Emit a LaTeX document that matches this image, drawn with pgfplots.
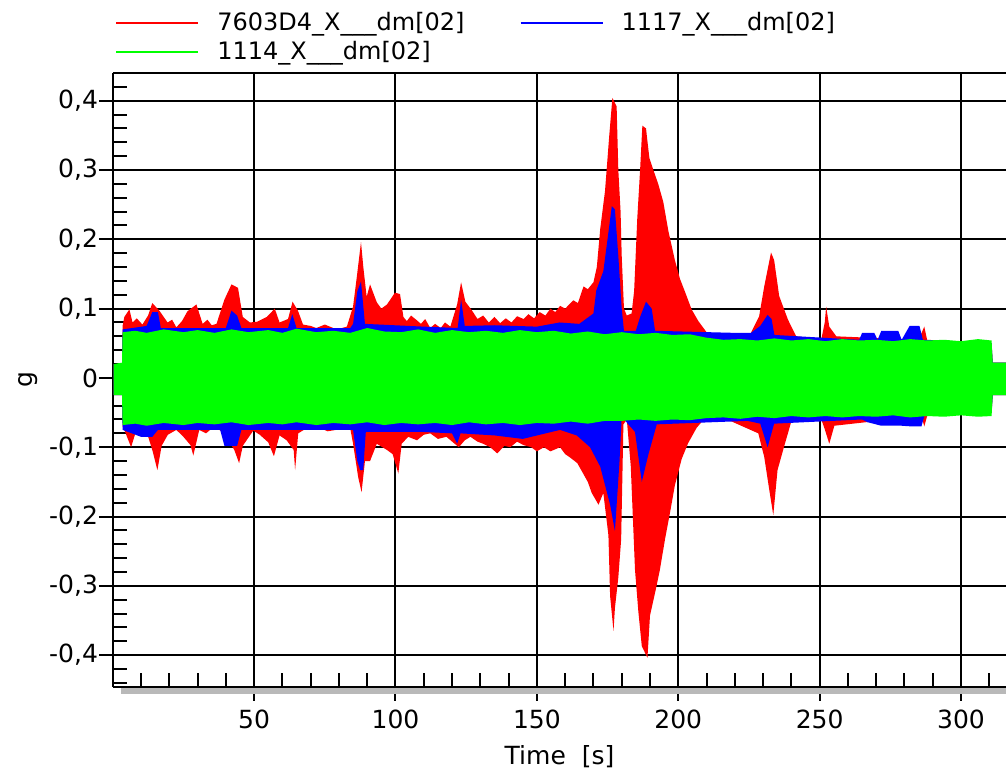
\documentclass[border=0pt]{standalone}
\usepackage{fontspec}
\setmainfont{DejaVu Sans}
\usepackage{pgfplots}
\pgfplotsset{compat=1.18}
\usepgfplotslibrary{fillbetween}
\definecolor{cred}{RGB}{255,0,0}
\definecolor{cblue}{RGB}{0,0,255}
\definecolor{cgreen}{RGB}{0,255,0}
\begin{document}
\begin{tikzpicture}
\fill[gray!55] (4pt,-0.5pt) rectangle (446.5pt,-3.5pt);
\begin{axis}[
  name=ax,
  scale only axis,
  width=446.5pt, height=307pt,
  xmin=0.1, xmax=315.9,
  ymin=-0.446, ymax=0.44,
  axis x line*=bottom, axis y line*=left,
  x axis line style={-, line width=1pt},
  y axis line style={-, line width=1pt},
  xtick={50,100,...,300},
  minor xtick={10,20,...,310},
  ytick={-0.4,-0.3,...,0.41},
  minor ytick={-0.44,-0.42,...,0.441},
  grid=major,
  major grid style={black, line width=1pt},
  tick align=outside,
  major tick length=7pt,
  minor tick length=7pt,
  tick style={black, line width=1pt},
  minor x tick style={yshift=7pt},
  minor y tick style={xshift=7pt},
  /pgf/number format/assume math mode=true,
  /pgf/number format/use comma,
  /pgf/number format/fixed,
  /pgf/number format/precision=1,
  ticklabel style={font=\fontsize{12.5}{14}\selectfont},
  yticklabel style={xshift=3pt},
  xticklabel style={yshift=-1pt},
  xlabel={Time\ \ [s]},
  ylabel={g},
  label style={font=\fontsize{12.5}{14}\selectfont},
  xlabel style={at={(axis description cs:0.5,0)}, anchor=center, yshift=-35pt},
  ylabel style={at={(axis description cs:-0.0952,0.5)}, anchor=center},
  legend columns=2,
  legend style={draw=none, fill=none, at={(axis description cs:0,1)}, anchor=south west,
    xshift=1pt, yshift=4pt, font=\fontsize{12}{14}\selectfont, inner sep=0pt,
    row sep=2pt, nodes={inner sep=1pt},
    /tikz/every even column/.append style={column sep=26.5pt},
    /tikz/every odd column/.append style={column sep=8pt}},
  legend image code/.code={\draw[#1] (0pt,0pt) -- (41pt,0pt);},
  legend cell align=left,
]
% ---- red series 7603D4 ----
\addplot[draw=none, forget plot, name path=ru] coordinates {
(0.3,0.02)(3.3,0.02)(3.5,0.075)(4.1,0.088)(5.9,0.099)(7,0.08)(8.5,0.086)(10.5,0.077)(12.5,0.09)(14,0.108)(16.5,0.097)(19.4,0.08)(21,0.084)(22.5,0.073)(24.5,0.082)(26.4,0.096)(29.6,0.106)(31.8,0.078)(33.5,0.084)(35,0.076)(36.7,0.078)(39.5,0.113)(42,0.135)(44.3,0.13)(46,0.088)(48.5,0.08)(51,0.081)(54.5,0.088)(57.3,0.1)(59,0.08)(62,0.085)(63.6,0.11)(65.5,0.097)(67.3,0.077)(70,0.075)(72,0.072)(75,0.077)(79.2,0.07)(82.8,0.074)(85,0.103)(86.3,0.145)(87.8,0.196)(88.6,0.161)(89.8,0.117)(91,0.135)(93.4,0.109)(95,0.1)(97,0.106)(99.8,0.123)(101.6,0.121)(102.8,0.088)(104,0.082)(105.5,0.09)(107.6,0.083)(109,0.078)(110.5,0.085)(112.3,0.072)(114,0.078)(116,0.072)(117.5,0.08)(119.4,0.074)(121.8,0.106)(123.2,0.138)(124.7,0.11)(127.1,0.097)(129,0.085)(131,0.09)(133,0.08)(135,0.088)(137,0.079)(139,0.086)(141,0.08)(143,0.089)(145.3,0.085)(147,0.092)(149,0.086)(151,0.095)(153,0.09)(154.8,0.1)(156.5,0.095)(158.2,0.104)(160,0.1)(162.9,0.112)(164.5,0.108)(166.5,0.132)(168,0.128)(170,0.138)(171.2,0.16)(172.4,0.215)(174.1,0.27)(175.6,0.35)(176.7,0.404)(178.2,0.392)(178.8,0.30)(179.6,0.24)(180,0.176)(180.8,0.10)(181.8,0.09)(183.5,0.093)(184.4,0.126)(185.5,0.23)(186.5,0.30)(187.3,0.364)(188.6,0.36)(189,0.345)(189.8,0.317)(191.2,0.30)(192.9,0.28)(194.7,0.254)(196.5,0.212)(198.8,0.17)(200.6,0.143)(202.4,0.124)(204.7,0.099)(207.1,0.082)(210,0.066)(212.4,0.06)(215,0.052)(225.7,0.065)(228.6,0.089)(230.4,0.132)(232.8,0.181)(233.9,0.17)(235.7,0.118)(238.8,0.084)(241.7,0.06)(250.6,0.056)(251.8,0.08)(252.3,0.103)(253.4,0.074)(255.9,0.06)(285,0.055)(287,0.074)(288,0.055)(310.8,0.05)(311.2,0.022)(316,0.022)
};
\addplot[draw=none, forget plot, name path=rl] coordinates {
(0.3,-0.025)(3.3,-0.025)(3.5,-0.07)(4.1,-0.075)(6.5,-0.1)(8,-0.08)(10.5,-0.085)(12,-0.078)(14,-0.104)(15.8,-0.133)(17.3,-0.098)(19.5,-0.082)(22.5,-0.075)(25,-0.085)(27.5,-0.097)(28.5,-0.112)(30.6,-0.075)(33,-0.08)(35.9,-0.07)(39.5,-0.08)(43,-0.104)(44.7,-0.123)(46,-0.098)(49.7,-0.076)(52,-0.082)(55,-0.093)(57,-0.113)(59,-0.083)(61.5,-0.09)(64,-0.104)(64.5,-0.133)(65.6,-0.08)(68,-0.074)(72,-0.07)(76,-0.077)(79,-0.075)(84,-0.073)(85,-0.095)(86.8,-0.143)(88,-0.165)(89.2,-0.12)(91,-0.12)(93.4,-0.095)(97,-0.104)(99,-0.11)(101,-0.138)(102.2,-0.095)(104.5,-0.085)(107.6,-0.09)(110,-0.082)(112.3,-0.08)(115,-0.088)(118,-0.085)(122.4,-0.1)(124.5,-0.09)(126.5,-0.085)(129,-0.092)(131,-0.095)(133.5,-0.1)(136,-0.109)(138.5,-0.098)(140.6,-0.1)(143,-0.092)(145.3,-0.097)(148,-0.1)(150,-0.106)(152.5,-0.1)(154.8,-0.106)(158.2,-0.1)(160,-0.11)(161.8,-0.115)(164.3,-0.123)(166.5,-0.139)(168,-0.15)(169.4,-0.166)(171.8,-0.183)(173.5,-0.166)(175.3,-0.227)(175.9,-0.315)(177.1,-0.365)(177.6,-0.332)(178.8,-0.288)(179.8,-0.233)(180.6,-0.067)(181.8,-0.06)(183.2,-0.127)(184.7,-0.277)(185.9,-0.338)(187.1,-0.387)(189.1,-0.404)(190,-0.343)(191.8,-0.31)(193.5,-0.277)(195.3,-0.233)(197.1,-0.194)(198.8,-0.155)(201.2,-0.117)(203.5,-0.094)(206.5,-0.072)(208.8,-0.061)(215.1,-0.056)(228.3,-0.08)(230.4,-0.114)(232.2,-0.162)(233.6,-0.198)(235.1,-0.133)(237.5,-0.098)(239.9,-0.064)(250.6,-0.06)(251.8,-0.074)(253.4,-0.095)(255.2,-0.069)(286,-0.055)(287,-0.07)(288,-0.055)(310.8,-0.05)(311.2,-0.025)(316,-0.025)
};
\addplot[fill=cred, draw=none, forget plot] fill between[of=ru and rl];
% ---- blue series 1117 ----
\addplot[draw=none, forget plot, name path=bu] coordinates {
(0.3,0.02)(3.3,0.02)(3.5,0.07)(12,0.075)(14,0.095)(16,0.095)(17,0.072)(40,0.072)(42,0.097)(44,0.09)(45.5,0.072)(62,0.072)(63.5,0.092)(65,0.072)(84,0.072)(85,0.078)(86.5,0.125)(87.8,0.139)(89.2,0.078)(110,0.074)(122,0.072)(123.2,0.113)(124.5,0.075)(135,0.076)(150,0.074)(158,0.08)(165,0.078)(170,0.093)(171,0.126)(173.5,0.154)(175.3,0.21)(176.5,0.248)(177.6,0.243)(178.8,0.176)(180,0.1)(180.8,0.068)(185,0.068)(186.5,0.088)(188.6,0.11)(190.6,0.1)(191.8,0.068)(220,0.065)(225.7,0.065)(229,0.075)(231.6,0.091)(233,0.085)(234,0.062)(264,0.055)(265,0.065)(269.3,0.065)(270.5,0.055)(271.8,0.068)(277.8,0.068)(279,0.055)(281.8,0.075)(285.3,0.075)(286.5,0.055)(310.8,0.05)(311.2,0.022)(316,0.022)
};
\addplot[draw=none, forget plot, name path=bl] coordinates {
(0.3,-0.025)(3.3,-0.025)(3.5,-0.075)(10,-0.085)(14,-0.085)(16,-0.075)(38,-0.075)(39.5,-0.098)(44,-0.098)(45.5,-0.075)(85,-0.075)(86.5,-0.12)(87.5,-0.133)(88.6,-0.133)(89.5,-0.078)(110,-0.078)(120,-0.08)(121.8,-0.095)(123,-0.08)(135,-0.083)(145,-0.088)(158.2,-0.075)(164.1,-0.083)(168.8,-0.1)(172.4,-0.128)(175.9,-0.183)(177.6,-0.221)(179.2,-0.122)(180,-0.056)(184.7,-0.078)(187.1,-0.15)(189.4,-0.111)(192.4,-0.067)(224.5,-0.062)(229,-0.066)(231.6,-0.1)(233.9,-0.066)(265,-0.06)(267,-0.064)(271.8,-0.069)(279,-0.069)(282.5,-0.07)(286,-0.07)(287,-0.055)(310.8,-0.05)(311.2,-0.025)(316,-0.025)
};
\addplot[fill=cblue, draw=none, forget plot] fill between[of=bu and bl];
% ---- green series 1114 ----
\addplot[draw=none, forget plot, name path=gu] coordinates {
(0.3,0.02)(3.3,0.022)(3.5,0.066)(8,0.068)(12,0.065)(18,0.07)(25,0.066)(30,0.069)(36,0.065)(42,0.07)(48,0.066)(55,0.069)(60,0.065)(65,0.071)(72,0.066)(78,0.068)(84,0.065)(90,0.072)(96,0.067)(102,0.066)(108,0.07)(114,0.065)(120,0.069)(126,0.066)(132,0.068)(138,0.065)(144,0.069)(150,0.066)(156,0.068)(162,0.064)(168,0.067)(174,0.063)(180,0.066)(186,0.063)(192,0.065)(198,0.062)(204,0.063)(210,0.058)(216,0.055)(222,0.056)(228,0.054)(234,0.057)(240,0.054)(246,0.056)(252,0.053)(258,0.056)(264,0.054)(270,0.055)(276,0.053)(282,0.056)(288,0.054)(294,0.055)(300,0.053)(306,0.056)(310.8,0.054)(311.2,0.022)(316,0.022)
};
\addplot[draw=none, forget plot, name path=gl] coordinates {
(0.3,-0.025)(3.3,-0.025)(3.5,-0.068)(8,-0.066)(12,-0.069)(18,-0.065)(25,-0.068)(30,-0.065)(36,-0.067)(42,-0.064)(48,-0.068)(55,-0.065)(60,-0.067)(65,-0.064)(72,-0.068)(78,-0.065)(84,-0.067)(90,-0.064)(96,-0.068)(102,-0.065)(108,-0.067)(114,-0.065)(120,-0.068)(126,-0.064)(132,-0.067)(138,-0.065)(144,-0.068)(150,-0.065)(156,-0.066)(162,-0.063)(168,-0.066)(174,-0.062)(180,-0.062)(186,-0.06)(192,-0.062)(198,-0.06)(204,-0.061)(210,-0.058)(216,-0.057)(222,-0.059)(228,-0.056)(234,-0.058)(240,-0.055)(246,-0.057)(252,-0.055)(258,-0.057)(264,-0.055)(270,-0.056)(276,-0.054)(282,-0.057)(288,-0.055)(294,-0.056)(300,-0.054)(306,-0.056)(310.8,-0.055)(311.2,-0.025)(316,-0.025)
};
\addplot[fill=cgreen, draw=none, forget plot] fill between[of=gu and gl];
\addlegendimage{cred, line width=1pt}
\addlegendentry{7603D4\_X\_\_\_dm[02]}
\addlegendimage{cblue, line width=1pt}
\addlegendentry{1117\_X\_\_\_dm[02]}
\addlegendimage{cgreen, line width=1pt}
\addlegendentry{1114\_X\_\_\_dm[02]}
\end{axis}
\draw[black, line width=1pt] (0,307pt) -- (446.5pt,307pt);
\pgfresetboundingbox
\path (-56.5pt,-43.5pt) rectangle (446.5pt,343.5pt);
\end{tikzpicture}
\end{document}
